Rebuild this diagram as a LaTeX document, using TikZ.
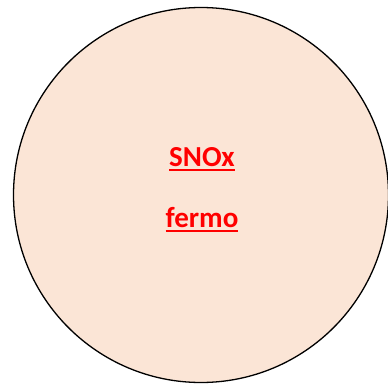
\documentclass[tikz,border=0pt]{standalone}
\usepackage{fontspec}
\setmainfont{Carlito}
\newcommand{\myul}[1]{\setbox0=\hbox{#1}\rlap{\rule[-5pt]{\wd0}{2pt}}\box0}
\definecolor{peach}{HTML}{FBE5D6}
\definecolor{txtred}{HTML}{FF0000}
\tikzset{
  ring/.style={draw=black, line width=1.3pt, fill=peach},
  lbl/.style={text=txtred, font=\fontsize{29}{34}\selectfont\bfseries, anchor=base, inner sep=0pt}
}
\begin{document}
\begin{tikzpicture}[x=1pt,y=-1pt]
\useasboundingbox (0,0) rectangle (388,385);
\node[ring, circle, minimum size=375pt, inner sep=0pt] (c) at (201,195) {};
\node[lbl] (s) at (202,166) {\myul{SNOx}};
\node[lbl] (f) at (202,227) {\myul{fermo}};
\end{tikzpicture}
\end{document}
